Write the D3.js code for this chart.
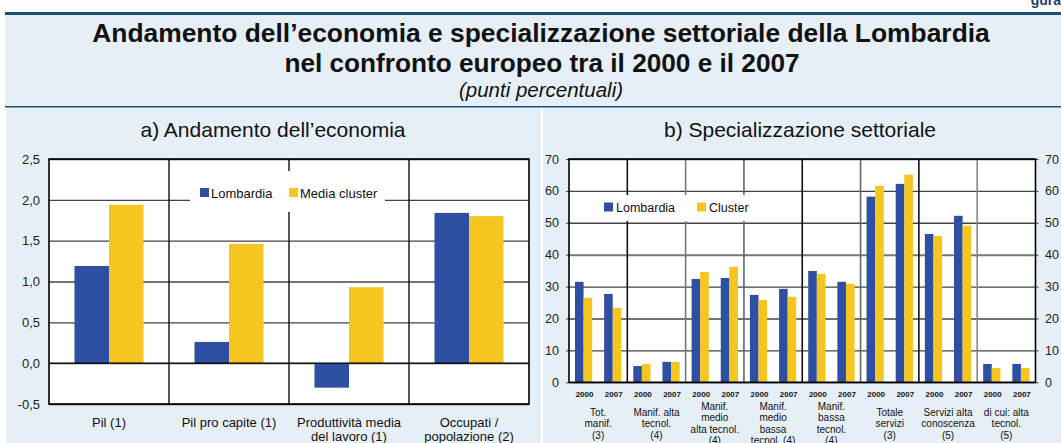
<!DOCTYPE html>
<html>
<head>
<meta charset="utf-8">
<script src="https://cdn.jsdelivr.net/npm/d3@7"></script>
<style>
  html, body { margin: 0; padding: 0; background: #ffffff; }
  svg { display: block; font-family: "Liberation Sans", Arial, sans-serif; }
</style>
</head>
<body>
<svg id="chart" width="1061" height="443"></svg>
<script>
// ---------- DATA ----------
const seriesNamesA = ["Lombardia", "Media cluster"];
const categoriesA = [["Pil (1)"], ["Pil pro capite (1)"], ["Produttività media", "del lavoro (1)"], ["Occupati /", "popolazione (2)"]];
const lombardiaA = [1.19, 0.26, -0.30, 1.84];
const clusterA = [1.94, 1.46, 0.93, 1.80];
const ticksA = [-0.5, 0, 0.5, 1.0, 1.5, 2.0, 2.5];

const seriesNamesB = ["Lombardia", "Cluster"];
const yearsB = ["2000", "2007"];
const categoriesB = [
  ["Tot.", "manif.", "(3)"],
  ["Manif. alta", "tecnol.", "(4)"],
  ["Manif.", "medio", "alta tecnol.", "(4)"],
  ["Manif.", "medio", "bassa", "tecnol. (4)"],
  ["Manif.", "bassa", "tecnol.", "(4)"],
  ["Totale", "servizi", "(3)"],
  ["Servizi alta", "conoscenza", "(5)"],
  ["di cui: alta", "tecnol.", "(5)"]
];
const lombardiaB2000 = [31.5, 5.1, 32.4, 27.4, 34.9, 58.2, 46.5, 5.75];
const lombardiaB2007 = [27.7, 6.4, 32.7, 29.3, 31.5, 62.2, 52.2, 5.75];
const clusterB2000 = [26.5, 5.75, 34.6, 25.8, 34.0, 61.6, 45.9, 4.5];
const clusterB2007 = [23.3, 6.4, 36.2, 26.8, 30.9, 65.1, 49.1, 4.5];
const ticksB = [0, 10, 20, 30, 40, 50, 60, 70];

const cornerLabel = "gura";
const titleLines = ["Andamento dell\u2019economia e specializzazione settoriale della Lombardia", "nel confronto europeo tra il 2000 e il 2007"];
const subtitle = "(punti percentuali)";
const panelTitleA = "a) Andamento dell\u2019economia";
const panelTitleB = "b) Specializzazione settoriale";

// ---------- STYLE ----------
const BLUE = "#2f4fa2";
const YELLOW = "#f5c520";
const BG = "#e7eff6";
const DARK = "#1d4f78";
const GRID = "#444";
const dividerColorsB = ["#111", "#777", "#666", "#111", "#666", "#111", "#888"];

const svg = d3.select("#chart");

// ---------- FRAME / BACKGROUNDS ----------
svg.append("text").attr("x", 1061).attr("y", 5).attr("text-anchor", "end")
  .attr("font-size", 14).attr("font-weight", "bold").attr("fill", "#1d3f66").text(cornerLabel);
svg.append("rect").attr("x", 5).attr("y", 14).attr("width", 1056).attr("height", 93).attr("fill", BG);
svg.append("rect").attr("x", 5).attr("y", 12).attr("width", 1056).attr("height", 3).attr("fill", DARK);
svg.append("rect").attr("x", 6).attr("y", 107).attr("width", 535).attr("height", 336).attr("fill", BG);
svg.append("rect").attr("x", 543).attr("y", 107).attr("width", 518).attr("height", 336).attr("fill", BG);
svg.append("rect").attr("x", 5).attr("y", 106).attr("width", 1056).attr("height", 1.5).attr("fill", DARK);

// Titles
svg.append("text").attr("x", 541).attr("y", 42).attr("text-anchor", "middle")
  .attr("font-size", 26.4).attr("font-weight", "bold").attr("fill", "#111").text(titleLines[0]);
svg.append("text").attr("x", 542).attr("y", 71.5).attr("text-anchor", "middle")
  .attr("font-size", 26.2).attr("font-weight", "bold").attr("fill", "#111").text(titleLines[1]);
svg.append("text").attr("x", 541).attr("y", 97).attr("text-anchor", "middle")
  .attr("font-size", 20.5).attr("font-style", "italic").attr("fill", "#111").text(subtitle);
svg.append("text").attr("x", 273).attr("y", 137).attr("text-anchor", "middle")
  .attr("font-size", 21).attr("fill", "#111").text(panelTitleA);
svg.append("text").attr("x", 800).attr("y", 137).attr("text-anchor", "middle")
  .attr("font-size", 21).attr("fill", "#111").text(panelTitleB);

const fmt = d => d3.format(".1f")(d).replace(".", ",").replace("\u2212", "-");

// ---------- PANEL A ----------
(function () {
  const x0 = 49, x1 = 529, yTop = 159, yBot = 404;
  const g = svg.append("g");
  const x = d3.scaleBand().domain(d3.range(categoriesA.length)).range([x0, x1]);
  const xs = d3.scaleBand().domain(seriesNamesA).range([0, x.bandwidth()]).paddingOuter(0.739);
  const y = d3.scaleLinear().domain([-0.5, 2.5]).range([yBot, yTop]);

  g.append("rect").attr("x", x0).attr("y", yTop).attr("width", x1 - x0).attr("height", yBot - yTop).attr("fill", "#fff");

  const ax = g.append("g").attr("transform", `translate(${x0},0)`)
    .call(d3.axisLeft(y).tickValues(ticksA).tickFormat(fmt).tickSize(-(x1 - x0)).tickPadding(9));
  ax.select(".domain").remove();
  ax.selectAll(".tick line").attr("stroke", GRID).attr("stroke-width", 1.4);
  ax.selectAll(".tick text").attr("font-size", 13).attr("fill", "#222").attr("font-family", "Liberation Sans, Arial, sans-serif");

  // vertical dividers
  g.selectAll("line.div").data(d3.range(1, categoriesA.length)).join("line")
    .attr("x1", d => x(d)).attr("x2", d => x(d)).attr("y1", yTop).attr("y2", yBot)
    .attr("stroke", "#111").attr("stroke-width", 1.4);

  // legend box
  g.append("rect").attr("x", 190).attr("y", 171).attr("width", 195).attr("height", 41).attr("fill", "#fff");

  const data = [];
  categoriesA.forEach((c, i) => {
    data.push({ i, s: seriesNamesA[0], v: lombardiaA[i], c: BLUE });
    data.push({ i, s: seriesNamesA[1], v: clusterA[i], c: YELLOW });
  });
  g.selectAll("rect.bar").data(data).join("rect")
    .attr("x", d => x(d.i) + xs(d.s)).attr("width", xs.bandwidth())
    .attr("y", d => y(Math.max(0, d.v))).attr("height", d => Math.abs(y(d.v) - y(0)))
    .attr("fill", d => d.c);

  // zero line
  g.append("line").attr("x1", x0).attr("x2", x1).attr("y1", y(0)).attr("y2", y(0)).attr("stroke", "#000").attr("stroke-width", 1.4);
  // frame
  g.append("rect").attr("x", x0).attr("y", yTop).attr("width", x1 - x0).attr("height", yBot - yTop)
    .attr("fill", "none").attr("stroke", "#000").attr("stroke-width", 1.6);

  // legend
  const leg = [{ n: seriesNamesA[0], c: BLUE, x: 200 }, { n: seriesNamesA[1], c: YELLOW, x: 289 }];
  leg.forEach(l => {
    g.append("rect").attr("x", l.x).attr("y", 188).attr("width", 9).attr("height", 9).attr("fill", l.c);
    g.append("text").attr("x", l.x + 11).attr("y", 197.5).attr("font-size", 13).attr("fill", "#111").text(l.n);
  });

  // category labels
  categoriesA.forEach((lines, i) => {
    const t = g.append("text").attr("x", x(i) + x.bandwidth() / 2).attr("y", 426.5)
      .attr("text-anchor", "middle").attr("font-size", 13).attr("fill", "#111");
    lines.forEach((ln, k) => t.append("tspan").attr("x", x(i) + x.bandwidth() / 2).attr("dy", k === 0 ? 0 : 14.5).text(ln));
  });
})();

// ---------- PANEL B ----------
(function () {
  const x0 = 569, x1 = 1035.5, yTop = 159, yBot = 382.3;
  const g = svg.append("g");
  const x = d3.scaleBand().domain(d3.range(categoriesB.length)).range([x0, x1]);
  const xy = d3.scaleBand().domain(yearsB).range([0, x.bandwidth()]);
  const xs = d3.scaleBand().domain(seriesNamesB).range([0, xy.bandwidth()]).paddingOuter(0.695);
  const y = d3.scaleLinear().domain([0, 70]).range([yBot, yTop]);

  g.append("rect").attr("x", x0).attr("y", yTop).attr("width", x1 - x0).attr("height", yBot - yTop).attr("fill", "#fff");

  const grid = g.append("g").attr("transform", `translate(${x0},0)`)
    .call(d3.axisLeft(y).tickValues(ticksB).tickFormat("").tickSize(-(x1 - x0)));
  grid.select(".domain").remove();
  grid.selectAll(".tick line").attr("stroke", d => d === 40 ? "#777" : GRID).attr("stroke-width", d => d === 40 ? 2 : 1.4);

  const axL = g.append("g").attr("transform", `translate(${x0},0)`)
    .call(d3.axisLeft(y).tickValues(ticksB).tickSize(3).tickPadding(7));
  axL.select(".domain").remove();
  axL.selectAll(".tick line").attr("stroke", GRID);
  axL.selectAll(".tick text").attr("font-size", 12.5).attr("fill", "#222").attr("font-family", "Liberation Sans, Arial, sans-serif");

  const axR = g.append("g").attr("transform", `translate(${x1},0)`)
    .call(d3.axisRight(y).tickValues(ticksB).tickSize(3).tickPadding(6.5));
  axR.select(".domain").remove();
  axR.selectAll(".tick line").attr("stroke", GRID);
  axR.selectAll(".tick text").attr("font-size", 12.5).attr("fill", "#222").attr("font-family", "Liberation Sans, Arial, sans-serif");

  // dividers
  g.selectAll("line.div").data(d3.range(1, categoriesB.length)).join("line")
    .attr("x1", d => x(d)).attr("x2", d => x(d)).attr("y1", yTop).attr("y2", yBot)
    .attr("stroke", d => dividerColorsB[d - 1]).attr("stroke-width", 1.6);

  // legend box
  g.append("rect").attr("x", 601).attr("y", 195).attr("width", 151).attr("height", 26).attr("fill", "#fff");

  const data = [];
  categoriesB.forEach((c, i) => {
    data.push({ i, yr: yearsB[0], s: seriesNamesB[0], v: lombardiaB2000[i], c: BLUE });
    data.push({ i, yr: yearsB[0], s: seriesNamesB[1], v: clusterB2000[i], c: YELLOW });
    data.push({ i, yr: yearsB[1], s: seriesNamesB[0], v: lombardiaB2007[i], c: BLUE });
    data.push({ i, yr: yearsB[1], s: seriesNamesB[1], v: clusterB2007[i], c: YELLOW });
  });
  g.selectAll("rect.bar").data(data).join("rect")
    .attr("x", d => x(d.i) + xy(d.yr) + xs(d.s)).attr("width", xs.bandwidth())
    .attr("y", d => y(d.v)).attr("height", d => y(0) - y(d.v))
    .attr("fill", d => d.c);

  g.append("rect").attr("x", x0).attr("y", yTop).attr("width", x1 - x0).attr("height", yBot - yTop)
    .attr("fill", "none").attr("stroke", "#000").attr("stroke-width", 1.6);

  // legend
  const leg = [{ n: seriesNamesB[0], c: BLUE, x: 604 }, { n: seriesNamesB[1], c: YELLOW, x: 697 }];
  leg.forEach(l => {
    g.append("rect").attr("x", l.x).attr("y", 202.5).attr("width", 9).attr("height", 9).attr("fill", l.c);
    g.append("text").attr("x", l.x + 12).attr("y", 211.5).attr("font-size", 12.5).attr("fill", "#111").text(l.n);
  });

  // year labels
  categoriesB.forEach((c, i) => {
    yearsB.forEach(yr => {
      g.append("text").attr("x", x(i) + xy(yr) + xy.bandwidth() / 2 + 1).attr("y", 397)
        .attr("text-anchor", "middle").attr("font-size", 8).attr("font-weight", "bold").attr("fill", "#111").text(yr);
    });
  });

  // category labels
  categoriesB.forEach((lines, i) => {
    const cx = x(i) + x.bandwidth() / 2;
    const lh = 11.5;
    const startY = 427 - (lines.length - 1) * lh / 2;
    const t = g.append("text").attr("x", cx).attr("y", startY)
      .attr("text-anchor", "middle").attr("font-size", 10).attr("fill", "#111");
    lines.forEach((ln, k) => t.append("tspan").attr("x", cx).attr("dy", k === 0 ? 0 : lh).text(ln));
  });
})();
</script>
</body>
</html>
